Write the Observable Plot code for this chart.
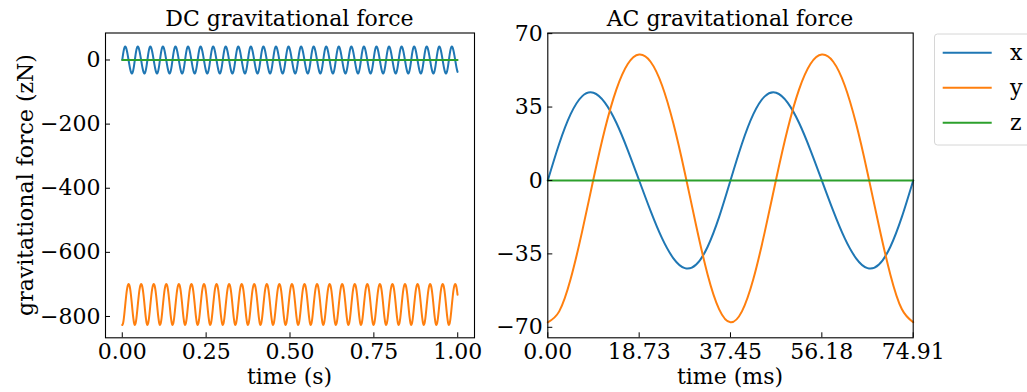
<!DOCTYPE html>
<html><head><meta charset="utf-8">
<script src="https://cdn.jsdelivr.net/npm/d3@7"></script>
<script src="https://cdn.jsdelivr.net/npm/@observablehq/plot@0.6"></script>
<style>
body{margin:0;background:#fff;}
#fig{position:relative;width:1027px;height:392px;overflow:hidden;font-family:"DejaVu Serif";color:#000;background:#fff;}
#fig svg{position:absolute;top:0;}
</style></head><body><div id="fig"></div>
<script>
// ---- data ----
const seriesNames = ["x", "y", "z"];
const seriesColors = ["#1f77b4", "#ff7f0e", "#2ca02c"];

// AC panel: time (ms) and force (zN), two rotation periods
const acTime = [0, 2.34, 4.68, 7.02, 9.36, 11.70, 14.05, 16.39, 18.73, 21.07, 23.41, 25.75, 28.09, 30.43, 32.77, 35.11,
  37.45, 39.80, 42.14, 44.48, 46.82, 49.16, 51.50, 53.84, 56.18, 58.52, 60.86, 63.20, 65.54, 67.89, 70.23, 72.57, 74.91];
const acX = [0, 17.5, 31.6, 40.1, 41.8, 37.1, 27.5, 14.5, 0, -14.5, -27.5, -37.1, -41.8, -40.1, -31.6, -17.5,
  0, 17.5, 31.6, 40.1, 41.8, 37.1, 27.5, 14.5, 0, -14.5, -27.5, -37.1, -41.8, -40.1, -31.6, -17.5, 0];
const acY = [-67.6, -62.4, -47.0, -24.5, 0.7, 24.4, 43.3, 55.5, 60.0, 56.6, 45.4, 27.1, 3.7, -21.7, -44.9, -61.3,
  -67.6, -62.4, -47.0, -24.5, 0.7, 24.4, 43.3, 55.5, 60.0, 56.6, 45.4, 27.1, 3.7, -21.7, -44.9, -61.3, -67.6];
const acZ = [0, 0, 0, 0, 0, 0, 0, 0, 0, 0, 0, 0, 0, 0, 0, 0,
  0, 0, 0, 0, 0, 0, 0, 0, 0, 0, 0, 0, 0, 0, 0, 0, 0];

// DC panel: static offset of each component; the same periodic profile repeats over 1 s
const dcOffset = [0, -759, 0];
const dcDuration = 1000; // ms

// ticks
const dcTicksX = [0, 0.25, 0.5, 0.75, 1];
const dcTicksY = [0, -200, -400, -600, -800];
const acTicksX = [0, 18.73, 37.45, 56.18, 74.91];
const acTicksY = [70, 35, 0, -35, -70];

// ---- tables ----
const acSeries = [acX, acY, acZ];
const acRows = [];
seriesNames.forEach((s, si) => acTime.forEach((t, i) => acRows.push({s, t, v: acSeries[si][i]})));

const periodMs = acTime[16];
const dcRows = [];
seriesNames.forEach((s, si) => {
  for (let n = 0; ; n++) {
    let done = false;
    for (let j = 0; j < 16; j++) {
      const t = acTime[j] + n * periodMs;
      if (t > dcDuration) { done = true; break; }
      dcRows.push({s, t: t / 1000, v: acSeries[si][j] + dcOffset[si]});
    }
    if (done) break;
  }
});

const minus = d => (d < 0 ? "\u2212" + Math.abs(d) : String(d));
const FONT = 22;
const common = {
  height: 392, marginTop: 32.5, marginBottom: 54.7,
  style: {fontFamily: "DejaVu Serif", fontSize: FONT + "px", background: "transparent", color: "black", overflow: "visible"},
  color: {domain: seriesNames, range: seriesColors}
};
function axes(tx, ty, fx) {
  return [
    Plot.axisX(tx, {tickSize: 0, tickPadding: 6, tickFormat: fx, label: null}),
    Plot.axisX(tx, {tickSize: 5, dy: -5, tickFormat: () => "", label: null}),
    Plot.axisY(ty, {tickSize: 0, tickPadding: 5, tickFormat: minus, label: null}),
    Plot.axisY(ty, {tickSize: 5, dx: 5, tickFormat: () => "", label: null}),
    Plot.frame({stroke: "black", strokeWidth: 1.1})
  ];
}

const left = Plot.plot({
  ...common, width: 500, marginLeft: 105, marginRight: 26,
  x: {domain: [-0.05, 1.05]},
  y: {domain: [-866.5, 84.2]},
  marks: [
    Plot.line(dcRows, {x: "t", y: "v", z: "s", stroke: "s", curve: "natural", strokeWidth: 2}),
    ...axes(dcTicksX, dcTicksY, d => d.toFixed(2))
  ]
});
const right = Plot.plot({
  ...common, width: 527, marginLeft: 47.3, marginRight: 114.3,
  x: {domain: [0, 74.91]},
  y: {domain: [-75, 70.3]},
  marks: [
    Plot.line(acRows, {x: "t", y: "v", z: "s", stroke: "s", curve: "natural", strokeWidth: 2}),
    ...axes(acTicksX, acTicksY, d => d.toFixed(2))
  ]
});
const fig = document.getElementById("fig");
left.style.left = "0px";
right.style.left = "500px";
fig.appendChild(left);
fig.appendChild(right);

// titles, axis labels, legend
const ns = "http://www.w3.org/2000/svg";
const ov = document.createElementNS(ns, "svg");
ov.setAttribute("width", 1027); ov.setAttribute("height", 392);
ov.style.left = "0px";
ov.setAttribute("font-family", "DejaVu Serif");
ov.setAttribute("font-size", FONT);
function txt(str, x, y, rot) {
  const t = document.createElementNS(ns, "text");
  t.textContent = str;
  t.setAttribute("text-anchor", "middle");
  t.setAttribute("transform", `translate(${x},${y})` + (rot ? ` rotate(${rot})` : ""));
  ov.appendChild(t);
}
txt("DC gravitational force", 289.5, 26);
txt("AC gravitational force", 730, 26);
txt("time (s)", 289.5, 384);
txt("time (ms)", 730, 384);
txt("gravitational force (zN)", 33, 185, -90);

const box = document.createElementNS(ns, "rect");
box.setAttribute("x", 934.5); box.setAttribute("y", 34); box.setAttribute("width", 110); box.setAttribute("height", 111);
box.setAttribute("rx", 3); box.setAttribute("fill", "white"); box.setAttribute("stroke", "#d6d6d6");
ov.appendChild(box);
seriesNames.forEach((s, i) => {
  const y = 52.7 + i * 35;
  const l = document.createElementNS(ns, "line");
  l.setAttribute("x1", 942.7); l.setAttribute("x2", 991.7); l.setAttribute("y1", y); l.setAttribute("y2", y);
  l.setAttribute("stroke", seriesColors[i]); l.setAttribute("stroke-width", 2);
  ov.appendChild(l);
  const t = document.createElementNS(ns, "text");
  t.textContent = s; t.setAttribute("x", 1010); t.setAttribute("y", y + 7);
  ov.appendChild(t);
});
fig.appendChild(ov);
</script></body></html>
